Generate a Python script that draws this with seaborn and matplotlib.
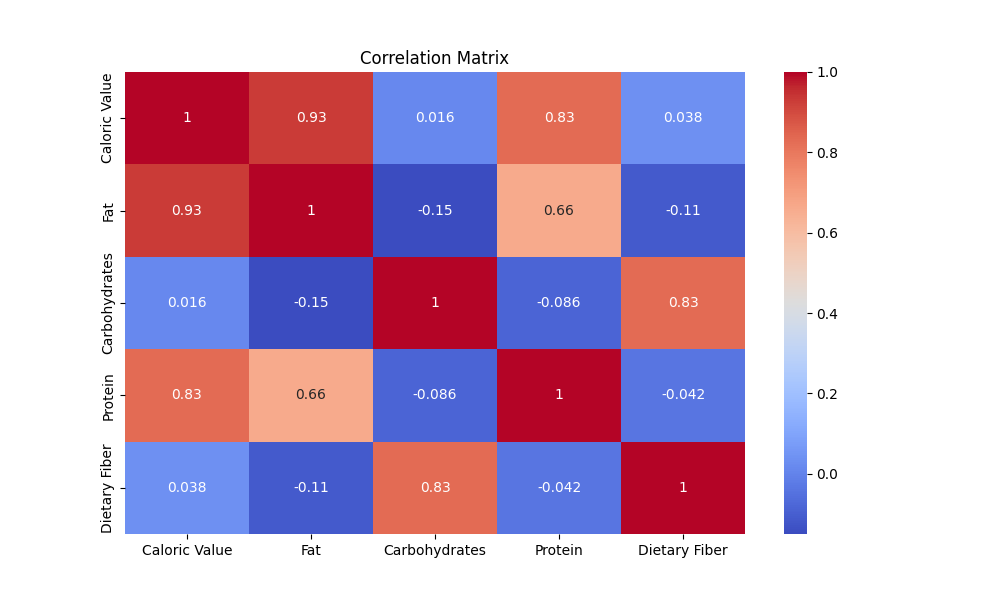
import matplotlib
matplotlib.use("Agg")
import matplotlib.pyplot as plt
import seaborn as sns
import pandas as pd
import numpy as np

labels = ["Caloric Value", "Fat", "Carbohydrates", "Protein", "Dietary Fiber"]
row_caloric = [1, 0.93, 0.016, 0.83, 0.038]
row_fat = [0.93, 1, -0.15, 0.66, -0.11]
row_carbs = [0.016, -0.15, 1, -0.086, 0.83]
row_protein = [0.83, 0.66, -0.086, 1, -0.042]
row_fiber = [0.038, -0.11, 0.83, -0.042, 1]

corr = pd.DataFrame([row_caloric, row_fat, row_carbs, row_protein, row_fiber],
                    index=labels, columns=labels)

fig = plt.figure(figsize=(10, 6), dpi=100)
ax = sns.heatmap(corr, annot=True, cmap="coolwarm")
ax.set_title("Correlation Matrix")
plt.savefig("out.png")
